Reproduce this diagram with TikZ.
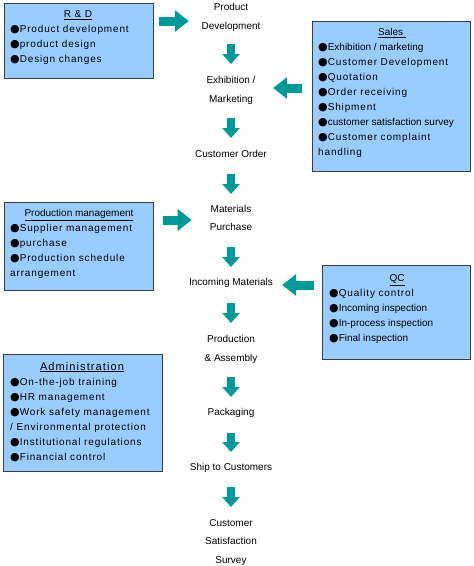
\documentclass[tikz,border=0pt]{standalone}
\usepackage{fontspec}
\setmainfont{Liberation Sans}
\newfontfamily\spc[LetterSpace=8.5]{Liberation Sans}
\newfontfamily\spct[LetterSpace=10]{Liberation Sans}
\newfontfamily\bulf{DejaVu Sans}
\newcommand\mybul{{\bulf\fontsize{11}{13}\selectfont ●}}
\usetikzlibrary{arrows.meta,calc}
\definecolor{boxblue}{RGB}{153,204,255}
\definecolor{tealarrow}{RGB}{0,153,153}
\definecolor{boxline}{RGB}{60,60,70}
\begin{document}
\begin{tikzpicture}[x=1pt,y=-1pt,
  box/.style={draw=boxline, line width=0.8pt, fill=boxblue, anchor=north west, inner sep=0pt},
  title/.style={anchor=base, inner sep=0pt},
  item/.style={anchor=base west, inner sep=0pt, font=\spc},
  itemn/.style={anchor=base west, inner sep=0pt},
  flow/.style={align=center, inner sep=0pt, font=\fontsize{10}{18.5}\selectfont},
  downarr/.style={draw=tealarrow, line width=8pt, -{Triangle[width=17pt,length=10pt]}},
  harr/.style={draw=tealarrow, line width=9pt, -{Triangle[width=21pt,length=14pt]}}]
\useasboundingbox (0,0) rectangle (474,566);

% R&D
\node[box, minimum width=149pt, minimum height=75pt] (rd) at (4,3) {};
\node[title, font=\spc] (rdt) at (78,17.6) {\underline{R \& D}};
\node[item] (rd1) at (10,32.6) {\mybul Product development};
\node[item] (rd2) at (10,47.6) {\mybul product design};
\node[item] (rd3) at (10,62.6) {\mybul Design changes};

% Sales
\node[box, minimum width=158pt, minimum height=150pt] (sa) at (312,21) {};
\node[title] (sat) at (392,35.6) {\underline{Sales\ }};
\node[itemn] (sa1) at (318,50.6) {\mybul Exhibition / marketing};
\node[item] (sa2) at (318,65.6) {\mybul Customer Development};
\node[item] (sa3) at (318,80.6) {\mybul Quotation};
\node[item] (sa4) at (318,95.6) {\mybul Order receiving};
\node[item] (sa5) at (318,110.6) {\mybul Shipment};
\node[itemn] (sa6) at (318,125.6) {\mybul customer satisfaction survey};
\node[item] (sa7) at (318,140.6) {\mybul Customer complaint};
\node[item] (sa8) at (318,155.6) {handling};

% Production management
\node[box, minimum width=149pt, minimum height=88pt] (pm) at (4,202) {};
\node[title] (pmt) at (79,216.6) {\underline{Production management}};
\node[item] (pm1) at (10,231.9) {\mybul Supplier management};
\node[item] (pm2) at (10,246.9) {\mybul purchase};
\node[item] (pm3) at (10,261.9) {\mybul Production schedule};
\node[item] (pm4) at (10,276.9) {arrangement};

% QC
\node[box, minimum width=148pt, minimum height=94pt] (qc) at (322,265) {};
\node[title] (qct) at (397,281.9) {\underline{QC}};
\node[item] (qc1) at (329,296.9) {\mybul Quality control};
\node[itemn] (qc2) at (329,311.9) {\mybul Incoming inspection};
\node[itemn] (qc3) at (329,326.9) {\mybul In-process inspection};
\node[itemn] (qc4) at (329,341.9) {\mybul Final inspection};

% Administration
\node[box, minimum width=159pt, minimum height=117pt] (ad) at (3,354) {};
\node[title, font=\fontsize{11}{13}\spct] (adt) at (82,370) {\underline{Administration}};
\node[item] (ad1) at (10,385) {\mybul On-the-job training};
\node[item] (ad2) at (10,400) {\mybul HR management};
\node[item] (ad3) at (10,415) {\mybul Work safety management};
\node[item] (ad4) at (10,430) {/ Environmental protection};
\node[item] (ad5) at (10,445) {\mybul Institutional regulations};
\node[item] (ad6) at (10,460) {\mybul Financial control};

% Flow
\node[flow] (pd) at (231,17.3) {Product\\Development};
\node[flow] (em) at (231,90.3) {Exhibition /\\Marketing};
\node[flow] (co) at (231,154) {Customer Order};
\node[flow] (mp) at (231,217.9) {Materials\\Purchase};
\node[flow] (im) at (231,283) {Incoming Materials};
\node[flow] (pa) at (231,349.3) {Production\\\& Assembly};
\node[flow] (pk) at (231,413) {Packaging};
\node[flow] (sc) at (231,468) {Ship to Customers};
\node[flow] (cs) at (231,542.5) {Customer\\Satisfaction\\Survey};

% Down arrows
\draw[downarr] (pd |- 0,44) -- (em |- 0,64);
\draw[downarr] (em |- 0,118) -- (co |- 0,138);
\draw[downarr] (co |- 0,174) -- (mp |- 0,194);
\draw[downarr] (mp |- 0,247) -- (im |- 0,267);
\draw[downarr] (im |- 0,303) -- (pa |- 0,323);
\draw[downarr] (pa |- 0,377) -- (pk |- 0,397);
\draw[downarr] (pk |- 0,433) -- (sc |- 0,452);
\draw[downarr] (sc |- 0,487) -- (cs |- 0,507);

% Side arrows
\draw[harr] ($(rd.east |- 0,21)+(5,0)$) -- ($(pd.west |- 0,21)+(-12.5,0)$);
\draw[harr] ($(sa.west |- 0,88)+(-10,0)$) -- ($(em.east |- 0,88)+(17.5,0)$);
\draw[harr] ($(pm.east |- 0,220)+(9,0)$) -- ($(mp.west |- 0,220)+(-18,0)$);
\draw[harr] ($(qc.west |- 0,285)+(-8,0)$) -- ($(im.east |- 0,285)+(9,0)$);
\end{tikzpicture}
\end{document}
